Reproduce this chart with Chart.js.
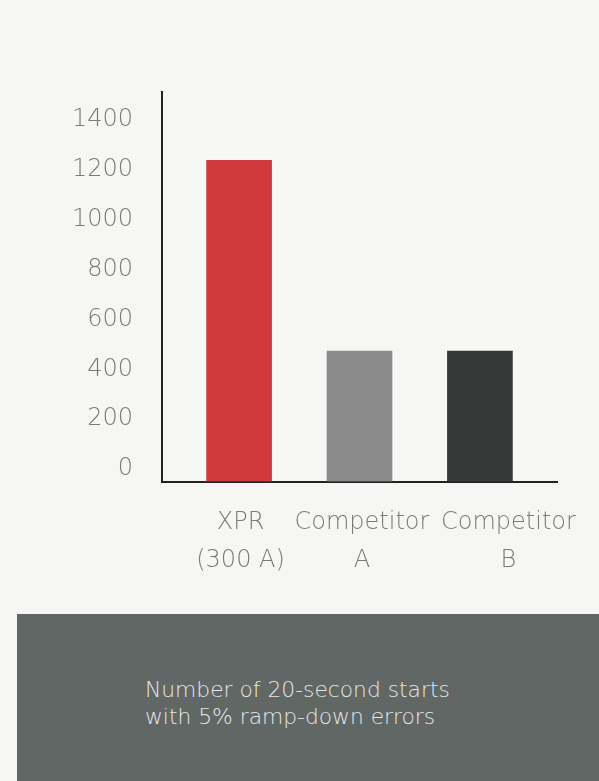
<!DOCTYPE html>
<html>
<head>
<meta charset="utf-8">
<script src="https://cdn.jsdelivr.net/npm/chart.js@4"></script>
<style>
  html, body { margin: 0; padding: 0; }
  body { width: 599px; height: 781px; background: #f6f6f4; position: relative; overflow: hidden; }
  #wrap { position: absolute; left: 0; top: 0; width: 599px; height: 613px; }
  #panel { position: absolute; left: 17px; top: 614px; width: 582px; height: 167px; background: #616765; }
  #caption { position: absolute; left: 128px; top: 62px; color: #e6e6e6; font-family: "DejaVu Sans", sans-serif; font-weight: 200; font-size: 21.8px; line-height: 27px; white-space: nowrap; }
</style>
</head>
<body>
<div id="wrap"><canvas id="c" width="599" height="613"></canvas></div>
<div id="panel"><div id="caption">Number of 20-second starts<br>with 5% ramp-down errors</div></div>
<script>
const categories = [["XPR", "(300 A)"], ["Competitor", "A"], ["Competitor", "B"]];
const values = [1230, 465, 465];
const yTicks = [0, 200, 400, 600, 800, 1000, 1200, 1400];
const barColors = ["#cf3a3b", "#8b8b8b", "#363937"];

// layout constants (not data)
const Y_MIN = -58, Y_MAX = 1504;
const X_MIN = -0.64, X_MAX = 2.64;
const LABEL_SHIFT = [0.012, 0.02, 0.237]; // category label nudge, in category units
const FONT = { family: "'DejaVu Sans', sans-serif", weight: 200, size: 24, lineHeight: 1.58 };

new Chart(document.getElementById("c"), {
  type: "bar",
  data: {
    datasets: [{
      data: values.map((v, i) => ({ x: i, y: v })),
      backgroundColor: barColors,
      borderWidth: 0,
      barThickness: 65,
      base: Y_MIN
    }]
  },
  options: {
    responsive: false,
    animation: false,
    layout: { padding: { top: 92, right: 42, left: 0, bottom: 0 } },
    plugins: { legend: { display: false }, tooltip: { enabled: false } },
    scales: {
      x: {
        type: "linear",
        offset: false,
        min: X_MIN, max: X_MAX,
        grid: { display: false, drawTicks: false, offset: false },
        border: { display: true, color: "#222", width: 2 },
        afterBuildTicks: s => { s.ticks = categories.map((c, i) => ({ value: i + LABEL_SHIFT[i] })); },
        afterFit: s => { s.height = 131.5; s.paddingLeft = 0; s.paddingRight = 0; },
        ticks: {
          callback: (v, i) => categories[i],
          color: "#7a7a7a",
          font: FONT,
          padding: 22,
          maxRotation: 0,
          autoSkip: false
        }
      },
      y: {
        min: Y_MIN, max: Y_MAX,
        grid: { display: false, drawTicks: false },
        border: { display: true, color: "#222", width: 2 },
        afterBuildTicks: s => { s.ticks = yTicks.map(v => ({ value: v })); },
        afterFit: s => { s.width = 162; s.paddingTop = 0; s.paddingBottom = 0; },
        ticks: {
          color: "#7a7a7a",
          font: FONT,
          padding: 29,
          labelOffset: 2,
          callback: v => String(v)
        }
      }
    }
  }
});
</script>
</body>
</html>
